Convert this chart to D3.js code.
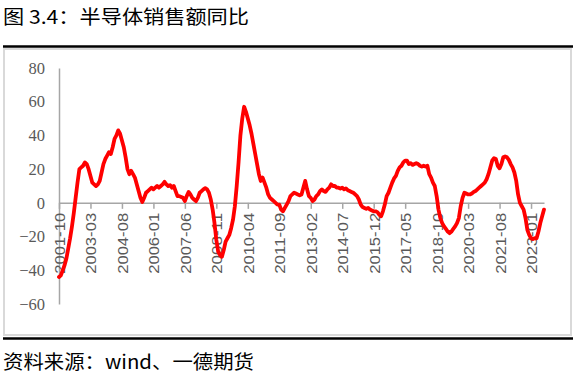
<!DOCTYPE html>
<html lang="zh">
<head>
<meta charset="UTF-8">
<title>半导体销售额同比</title>
<style>
  body { margin: 0; background: #fff; }
  svg { display: block; }
</style>
</head>
<body>
<div class="canvas"></div>
<script src="https://cdnjs.cloudflare.com/ajax/libs/d3/7.8.5/d3.min.js"></script>
<script>
// monthly yoy (%), 2001-10 .. 2023-09
const salesYoY = [
  -44, -43, -40,                                              // 2001 Oct-Dec
  -37, -33, -27, -21, -14, -6, 3, 12, 20, 21, 22, 24,         // 2002
  23, 20, 16, 12, 11, 10, 11, 13, 18, 23, 26, 28,             // 2003
  30, 29, 33, 38, 40, 43, 41, 37, 33, 27, 20, 17,             // 2004
  19, 17, 15, 11, 7, 3, 0.5, 3, 6, 7, 8, 9,                   // 2005
  8, 9, 10, 9, 10, 11, 12.5, 11, 10, 10.5, 9, 10,             // 2006
  7, 4, 4, 3.5, 3, 1, 4, 6.5, 5, 3, 2, 1,                     // 2007
  3, 6, 7, 8, 8.7, 8, 6, 2, -4, -12, -22, -29,                // 2008
  -31, -32, -28, -23, -21, -19, -15, -10, -2, 10, 24, 40,     // 2009
  50, 57, 54, 50, 46, 41, 35, 29, 23, 17, 13, 15,             // 2010
  12, 9, 5, 3, 2, 1, 0, -1, -1, -4, -5, -3,                   // 2011
  -1, 1, 4, 5, 6, 5.5, 5, 4.5, 5, 9, 13, 8,                   // 2012
  4, 3, 1, 2, 4, 5, 7, 8, 7, 6.5, 8, 9,                       // 2013
  11, 10, 10, 9, 9, 8.5, 9, 8, 8.5, 7.5, 7, 6.5,              // 2014
  6, 5, 4, 2, -1, -2.5, -3, -3.5, -3, -4, -4.5, -5,           // 2015
  -5, -5.5, -7, -8, -5, -1, 4, 6, 9, 12, 14.5, 16,            // 2016
  19, 21, 22, 24, 25, 25, 23, 23.5, 22.5, 23, 23.5, 23,       // 2017
  22, 21.5, 22, 21.5, 22, 17, 15, 12, 10, 4, -4, -9,          // 2018
  -12, -14, -15.5, -17, -18, -17, -15.5, -14, -12, -9, -2, 3, // 2019
  6, 5.5, 5, 5, 5.5, 6.5, 7, 8, 9, 10, 11, 12,                // 2020
  14, 17, 21, 25, 26.5, 26, 22, 20.5, 23, 27, 27.5, 27,       // 2021
  25.5, 23, 21, 18, 13, 5, 0, -2, -4, -9, -16, -19,           // 2022
  -21, -21.5, -21, -21, -17, -12, -8, -4                      // 2023 Feb-Sep
];

const startYear = 2001, startMonth = 10;
const months = salesYoY.map((d, i) => {
  const m = startMonth - 1 + i;
  return (startYear + Math.floor(m / 12)) + '-' + String(m % 12 + 1).padStart(2, '0');
});

const tickLabels = ['2001-10', '2003-03', '2004-08', '2006-01', '2007-06', '2008-11', '2010-04',
  '2011-09', '2013-02', '2014-07', '2015-12', '2017-05', '2018-10', '2020-03', '2021-08', '2023-01'];
const yTicks = [80, 60, 40, 20, 0, -20, -40, -60];

const title = '图 3.4：半导体销售额同比';
const source = '资料来源：wind、一德期货';

const width = 576, height = 377;
const cjk = '"Noto Sans CJK SC", "Noto Sans", sans-serif';

const svg = d3.select('.canvas').append('svg')
  .attr('width', width)
  .attr('height', height);

svg.append('text')
  .attr('x', 3)
  .attr('y', 24)
  .attr('fill', '#000')
  .attr('textLength', 246)
  .attr('lengthAdjust', 'spacingAndGlyphs')
  .style('font-family', cjk)
  .style('font-size', '19px')
  .text(title);

// black rules + grey frame
svg.append('line')
  .attr('x1', 3).attr('x2', 573).attr('y1', 46.5).attr('y2', 46.5)
  .attr('stroke', '#000').attr('stroke-width', 2.5);
svg.append('rect')
  .attr('x', 4).attr('y', 49).attr('width', 567).attr('height', 286)
  .attr('fill', 'none').attr('stroke', '#d9d9d9').attr('stroke-width', 2);
svg.append('line')
  .attr('x1', 3).attr('x2', 573).attr('y1', 338.5).attr('y2', 338.5)
  .attr('stroke', '#000').attr('stroke-width', 2.5);

svg.append('text')
  .attr('x', 3)
  .attr('y', 369)
  .attr('fill', '#000')
  .attr('textLength', 251)
  .attr('lengthAdjust', 'spacingAndGlyphs')
  .style('font-family', cjk)
  .style('font-size', '19px')
  .text(source);

const x = d3.scalePoint().domain(months).range([59, 544]);
const y = d3.scaleLinear().domain([-60, 80]).range([304, 68]);

// y axis: plain line + labels, no ticks
const yAxis = svg.append('g')
  .attr('transform', 'translate(59,0)')
  .attr('font-family', null)
  .call(d3.axisLeft(y).tickValues(yTicks).tickSize(0).tickPadding(14)
    .tickFormat(d => d < 0 ? '\u2212' + Math.abs(d) : d));
yAxis.select('.domain').attr('stroke', '#a6a6a6').attr('stroke-width', 1.5);
yAxis.selectAll('text')
  .attr('fill', '#595959')
  .attr('font-family', '"Liberation Serif", "Times New Roman", serif')
  .style('font-family', '"Liberation Serif", "Times New Roman", serif')
  .style('font-size', '16.5px');

// x axis sits on zero
const xAxis = svg.append('g')
  .attr('transform', `translate(0,${y(0)})`)
  .call(d3.axisBottom(x).tickValues(tickLabels).tickSizeOuter(0).tickSizeInner(6));
xAxis.select('.domain').attr('stroke', '#a6a6a6').attr('stroke-width', 1.5);
xAxis.selectAll('.tick line').attr('stroke', '#a6a6a6').attr('stroke-width', 1.5);
xAxis.selectAll('text')
  .attr('fill', '#595959')
  .attr('transform', 'rotate(-90)')
  .attr('text-anchor', 'end')
  .attr('x', -10)
  .attr('y', 0)
  .attr('dy', '0.35em')
  .attr('textLength', 61)
  .attr('lengthAdjust', 'spacingAndGlyphs')
  .style('font-family', '"Liberation Sans", Arial, sans-serif')
  .style('font-size', '15.5px');

const line = d3.line()
  .x((d, i) => x(months[i]))
  .y(d => y(d));

svg.append('path')
  .datum(salesYoY)
  .attr('d', line)
  .attr('fill', 'none')
  .attr('stroke', '#ff0000')
  .attr('stroke-width', 3.8)
  .attr('stroke-linejoin', 'round')
  .attr('stroke-linecap', 'round');
</script>
</body>
</html>
